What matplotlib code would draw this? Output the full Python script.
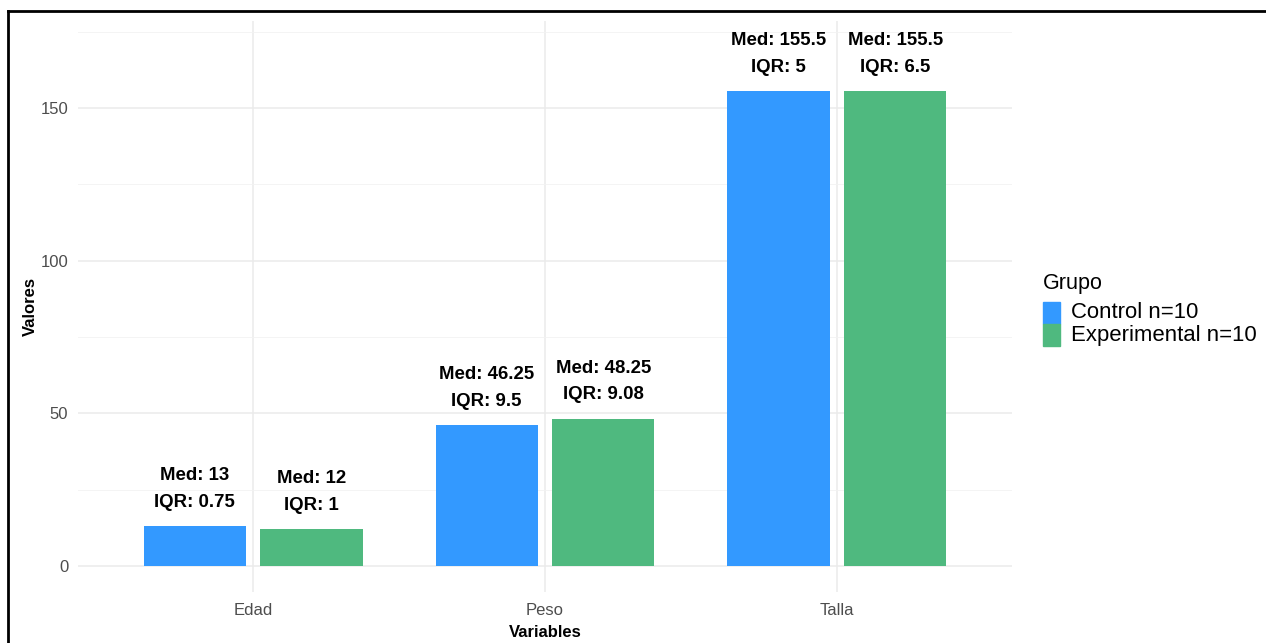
import numpy as np
import matplotlib.pyplot as plt
from matplotlib.lines import Line2D
from matplotlib.patches import Rectangle

variables = ["Edad", "Peso", "Talla"]
grupos = ["Control n=10", "Experimental n=10"]
medianas = {
    "Control n=10": [13, 46.25, 155.5],
    "Experimental n=10": [12, 48.25, 155.5],
}
iqr = {
    "Control n=10": ["0.75", "9.5", "5"],
    "Experimental n=10": ["1", "9.08", "6.5"],
}
colores = ["#3399FF", "#4FB97F"]

plt.rcParams["font.family"] = ["Liberation Sans", "DejaVu Sans"]

W, H = 1266, 643
fig = plt.figure(figsize=(W / 100, H / 100), dpi=100)
ax = fig.add_axes([78 / W, 51 / H, 934 / W, 571 / H])

x = np.arange(len(variables))
ancho = 0.35
desp = [-0.2, 0.2]

for g, col, d in zip(grupos, colores, desp):
    vals = medianas[g]
    ax.bar(x + d, vals, width=ancho, color=col, zorder=2)
    for xi, v, q in zip(x + d, vals, iqr[g]):
        ax.annotate(f"Med: {v:g}\nIQR: {q}", (xi, v), xytext=(0, 11),
                    textcoords="offset points", ha="center", va="bottom",
                    fontsize=13.4, fontweight="bold", linespacing=1.75,
                    zorder=3)

ax.set_xlim(-0.6, 2.6)
ax.set_ylim(-8.5, 178.5)
ax.set_xticks(x)
ax.set_xticklabels(variables)
ax.set_yticks([0, 50, 100, 150])
ax.set_yticks([25, 75, 125, 175], minor=True)

ax.grid(which="major", color="#EBEBEB", lw=1.1, zorder=0)
ax.grid(which="minor", axis="y", color="#F2F2F2", lw=0.6, zorder=0)
ax.tick_params(which="both", length=0, labelsize=12, labelcolor="#4D4D4D")
ax.tick_params(axis="x", pad=8)
ax.tick_params(axis="y", pad=7)
for s in ax.spines.values():
    s.set_visible(False)

ax.set_xlabel("Variables", fontsize=12, fontweight="bold", labelpad=5)
ax.set_ylabel("Valores", fontsize=12, fontweight="bold", labelpad=2)

# leyenda
fig.text(1043 / W, 1 - 283 / H, "Grupo", fontsize=15.5, va="center", ha="left")
for i, (g, col) in enumerate(zip(grupos, colores)):
    y0 = 302 + 22 * i
    fig.patches.append(Rectangle((1043 / W, 1 - (y0 + 22) / H), 17 / W, 22 / H,
                                 transform=fig.transFigure, color=col))
    fig.text(1071 / W, 1 - (y0 + 11) / H, g, fontsize=15.9, va="center", ha="left")

# marco
fig.add_artist(Line2D([8 / W, 1], [1 - 11 / H, 1 - 11 / H], color="black", lw=2,
                      transform=fig.transFigure))
fig.add_artist(Line2D([8 / W, 8 / W], [0, 1 - 11 / H], color="black", lw=2,
                      transform=fig.transFigure))

fig.savefig("out.png", dpi=100)
